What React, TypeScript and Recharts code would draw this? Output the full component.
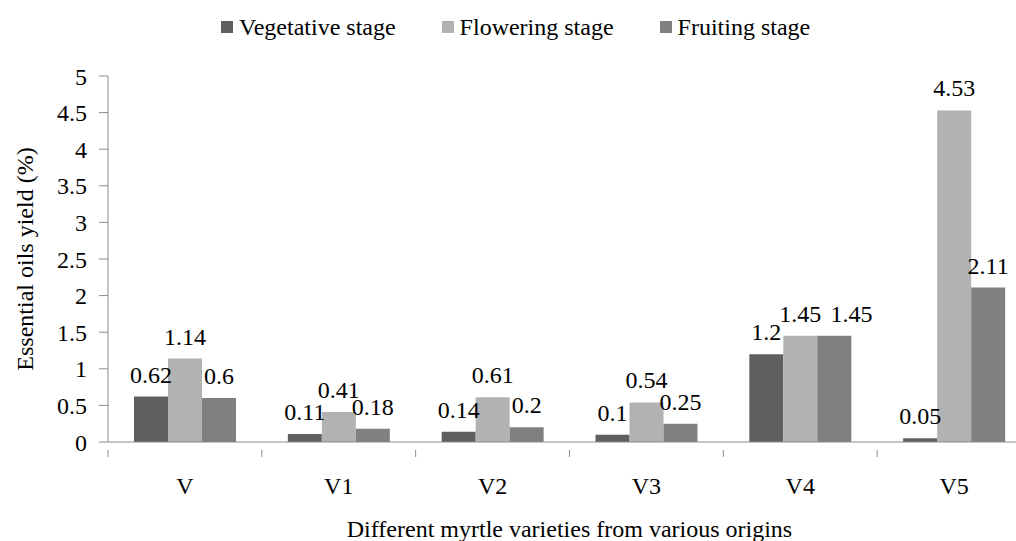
import { BarChart, Bar, XAxis, YAxis, LabelList, Label } from 'recharts';

const varieties = ['V', 'V1', 'V2', 'V3', 'V4', 'V5'];
const vegetative = [0.62, 0.11, 0.14, 0.1, 1.2, 0.05];
const flowering = [1.14, 0.41, 0.61, 0.54, 1.45, 4.53];
const fruiting = [0.6, 0.18, 0.2, 0.25, 1.45, 2.11];
const yTicks = [0, 0.5, 1, 1.5, 2, 2.5, 3, 3.5, 4, 4.5, 5];

const seriesKeys = ['veg', 'flo', 'fru'];
const seriesNames = ['Vegetative stage', 'Flowering stage', 'Fruiting stage'];
const seriesColors = ['#5f5f5f', '#b2b2b2', '#808080'];
const seriesValues = [vegetative, flowering, fruiting];

const FONT = 'Liberation Serif, Times New Roman, Times, serif';
const FS = 24;
const AXIS = '#8c8c8c';

const data = varieties.map((v, i) => ({
  name: v,
  veg: vegetative[i],
  flo: flowering[i],
  fru: fruiting[i],
}));

const CHART_W = 1040;
const CHART_H = 541;
const PLOT_LEFT = 108;
const PLOT_RIGHT = 1031;
const PLOT_TOP = 76;
const PLOT_BOTTOM = 442;
const BAND = (PLOT_RIGHT - PLOT_LEFT) / varieties.length;
const CAT_GAP = 26;
const BAR_W = (BAND - 2 * CAT_GAP) / 3;
const PX_PER_UNIT = (PLOT_BOTTOM - PLOT_TOP) / 5;

// rough width of a numeric label in the serif font
function labelWidth(v: number) {
  let w = 0;
  for (const ch of String(v)) w += ch === '.' ? 0.25 : 0.5;
  return w * FS;
}

// push a label right when it collides with the label of the bar on its left
function nudge(s: number, i: number) {
  if (s === 0) return 0;
  const prev = seriesValues[s - 1][i];
  const cur = seriesValues[s][i];
  if (Math.abs(prev - cur) * PX_PER_UNIT >= 16) return 0;
  const overlap = (labelWidth(prev) + labelWidth(cur)) / 2 - BAR_W;
  return overlap > 0 ? overlap + 9 : 0;
}

function makeBarLabel(s: number) {
  return function BarLabel(props: any) {
    const { x, y, width, value, index } = props;
    return (
      <text
        x={x + width / 2 + nudge(s, index)}
        y={y - 14}
        textAnchor="middle"
        fontFamily={FONT}
        fontSize={FS}
        fill="#000"
      >
        {value}
      </text>
    );
  };
}

function CategoryTick(props: any) {
  const { x, y, payload } = props;
  return (
    <g>
      <line x1={x - BAND / 2} x2={x - BAND / 2} y1={y} y2={y + 7} stroke={AXIS} />
      <text x={x} y={y + 44} textAnchor="middle" fontFamily={FONT} fontSize={FS} fill="#000">
        {payload.value}
      </text>
    </g>
  );
}

function YTitle() {
  const cy = (PLOT_TOP + PLOT_BOTTOM) / 2;
  return (
    <text
      x={25}
      y={cy}
      transform={`rotate(-90, 25, ${cy})`}
      textAnchor="middle"
      dominantBaseline="central"
      fontFamily={FONT}
      fontSize={FS}
      fill="#000"
    >
      Essential oils yield (%)
    </text>
  );
}

export default function App() {
  return (
    <div
      style={{
        position: 'absolute',
        left: 0,
        top: 0,
        width: 1016,
        height: 541,
        overflow: 'hidden',
        background: '#fff',
      }}
    >
      <div
        style={{
          position: 'absolute',
          top: 12,
          left: 221,
          display: 'flex',
          gap: 46,
          fontFamily: FONT,
          fontSize: FS,
          lineHeight: '30px',
        }}
      >
        {seriesNames.map((n, i) => (
          <div key={n} style={{ display: 'flex', alignItems: 'center' }}>
            <span
              style={{
                display: 'inline-block',
                width: 12,
                height: 12,
                background: seriesColors[i],
                marginRight: 6,
              }}
            />
            <span>{n}</span>
          </div>
        ))}
      </div>
      <BarChart
        width={CHART_W}
        height={CHART_H}
        data={data}
        margin={{ top: PLOT_TOP, right: CHART_W - PLOT_RIGHT, bottom: 39, left: 0 }}
        barCategoryGap={CAT_GAP}
        barGap={0}
      >
        <XAxis
          dataKey="name"
          height={60}
          tickLine={false}
          axisLine={{ stroke: AXIS }}
          tick={<CategoryTick />}
          interval={0}
        >
          <Label
            value="Different myrtle varieties from various origins"
            position="bottom"
            offset={18}
            fontFamily={FONT}
            fontSize={FS}
            fill="#000"
          />
        </XAxis>
        <YAxis
          width={PLOT_LEFT}
          domain={[0, 5]}
          ticks={yTicks}
          interval={0}
          tickSize={9}
          tickMargin={12}
          tickLine={{ stroke: AXIS }}
          axisLine={{ stroke: AXIS }}
          tick={{ fontFamily: FONT, fontSize: FS, fill: '#000' }}
        >
          <Label content={<YTitle />} />
        </YAxis>
        {seriesKeys.map((k, i) => (
          <Bar key={k} dataKey={k} name={seriesNames[i]} fill={seriesColors[i]} isAnimationActive={false}>
            <LabelList dataKey={k} content={makeBarLabel(i)} />
          </Bar>
        ))}
      </BarChart>
    </div>
  );
}
